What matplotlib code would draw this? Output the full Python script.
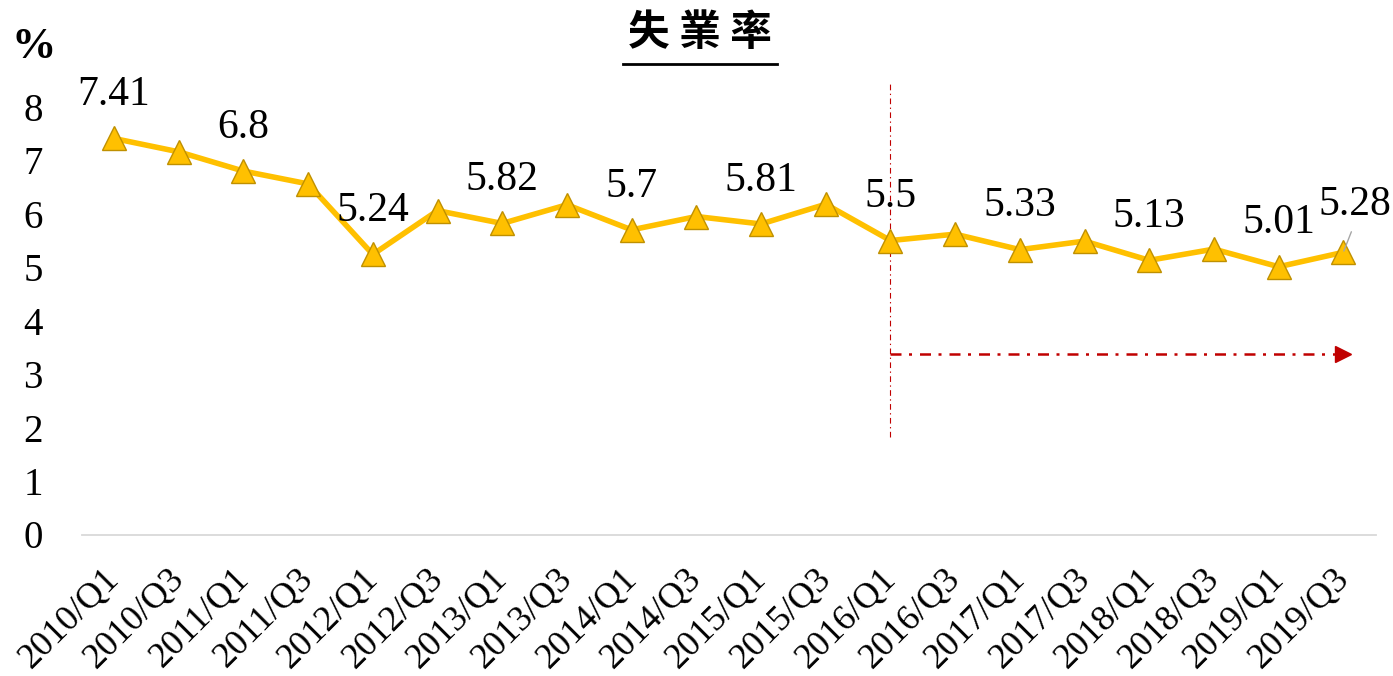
import matplotlib
matplotlib.use("Agg")
import matplotlib.pyplot as plt
from matplotlib.lines import Line2D

# quarterly unemployment rate (%), every second quarter
quarters = [
    "2010/Q1", "2010/Q3", "2011/Q1", "2011/Q3", "2012/Q1", "2012/Q3",
    "2013/Q1", "2013/Q3", "2014/Q1", "2014/Q3", "2015/Q1", "2015/Q3",
    "2016/Q1", "2016/Q3", "2017/Q1", "2017/Q3", "2018/Q1", "2018/Q3",
    "2019/Q1", "2019/Q3",
]
rate = [
    7.41, 7.16, 6.80, 6.56, 5.24, 6.06,
    5.82, 6.17, 5.70, 5.95, 5.81, 6.18,
    5.50, 5.62, 5.33, 5.49, 5.13, 5.34,
    5.01, 5.28,
]
y_ticks = [0, 1, 2, 3, 4, 5, 6, 7, 8]

# reference marker: policy start and the period after it
mark_quarter = "2016/Q1"
mark_span = (1.82, 8.45)
arrow_level = 3.37

GOLD = "#FFC000"
GOLD_EDGE = "#BF9000"
RED = "#C00000"
SERIF = ["Liberation Serif", "DejaVu Serif"]

plt.rcParams["font.family"] = SERIF

fig = plt.figure(figsize=(13.93, 6.76), dpi=100)
W, H = 1393, 676
ax = fig.add_axes([81.7 / W, 141.5 / H, 1294 / W, 481 / H])

x = list(range(len(quarters)))
ax.plot(x, rate, color=GOLD, lw=4, marker="^", ms=17.5,
        mfc=GOLD, mec=GOLD_EDGE, mew=1, zorder=3)

# data labels on Q1 points and the last point
for i, (q, v) in enumerate(zip(quarters, rate)):
    last = i == len(quarters) - 1
    if not (q.endswith("Q1") or last):
        continue
    if last:
        ax.annotate(f"{v:g}", (i, v), xytext=(8, 27), textcoords="offset points",
                    ha="center", va="baseline", fontsize=30,
                    arrowprops=dict(arrowstyle="-", color="#A6A6A6", lw=1,
                                    relpos=(0.5, 0), shrinkA=4, shrinkB=1),
                    zorder=4)
    else:
        ax.annotate(f"{v:g}", (i, v), xytext=(0, 24), textcoords="offset points",
                    ha="center", va="baseline", fontsize=30, zorder=4)

# vertical marker line and arrow to the right
xm = quarters.index(mark_quarter)
ax.plot([xm, xm], mark_span, color=RED, lw=0.8,
        linestyle=(0, (5.1, 3.1, 1.2, 3.1)), zorder=2)
x_end = len(quarters) - 1
ax.plot([xm, x_end - 0.1], [arrow_level, arrow_level], color=RED, lw=1.8,
        linestyle=(0, (4.4, 3.0, 1.2, 3.2)), zorder=2)
ax.plot([x_end], [arrow_level], marker=">", ms=11.5, color=RED, mec=RED, zorder=2)

ax.set_xlim(-0.5, len(quarters) - 0.5)
ax.set_ylim(0, 9)
ax.set_yticks(y_ticks)
ax.set_xticks(x)
ax.set_xticklabels(quarters)
ax.tick_params(axis="y", length=0, pad=28, labelsize=28)
ax.tick_params(axis="x", length=0, pad=28, labelsize=26)
plt.setp(ax.get_xticklabels(), rotation=45, ha="right", va="center",
         rotation_mode="anchor")

for side in ("left", "right", "top"):
    ax.spines[side].set_visible(False)
ax.spines["bottom"].set_color("#D9D9D9")
ax.spines["bottom"].set_linewidth(1.3)

# title with underline, and unit label
fig.text(700 / W, 1 - 33 / H, "失 業 率", ha="center", va="center",
         fontsize=30, fontweight="bold",
         family=["Noto Sans CJK TC", "DejaVu Sans"])
fig.add_artist(Line2D([623 / W, 777 / W], [1 - 64 / H, 1 - 64 / H],
                      color="black", lw=2))
fig.text(34 / W, 1 - 47 / H, "%", ha="center", va="center",
         fontsize=32, fontweight="bold")

fig.savefig("out.png", dpi=100)
